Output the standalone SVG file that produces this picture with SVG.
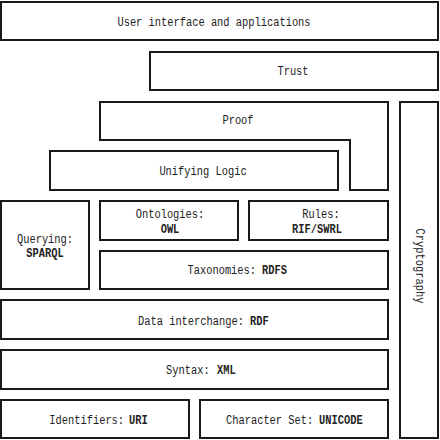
<svg xmlns="http://www.w3.org/2000/svg" width="440" height="440" viewBox="0 0 440 440">
<style>
.b{fill:#fff;stroke:#1a1a1a;stroke-width:2}
text{font-family:"Liberation Mono","DejaVu Sans Mono",monospace;font-size:10.4px;fill:#222;text-anchor:middle;dominant-baseline:central}
.s{text-anchor:start}
.k{font-weight:bold}
</style>
<rect width="440" height="440" fill="#fff"/>
<g id="ui"><rect class="b" x="1" y="2" width="437" height="38"/><text transform="translate(214 22) scale(1 1.2)">User interface and applications</text></g>
<g id="trust"><rect class="b" x="150" y="52" width="288" height="38"/><text transform="translate(293 71) scale(1 1.2)">Trust</text></g>
<g id="proof"><polygon class="b" points="100,102 388,102 388,190 350,190 350,140 100,140"/><text transform="translate(238 120) scale(1 1.2)">Proof</text></g>
<g id="crypto"><rect class="b" x="400" y="102" width="38" height="336"/><text transform="translate(420 266) rotate(90) scale(1 1.2)">Cryptography</text></g>
<g id="logic"><rect class="b" x="50" y="151" width="288" height="39"/><text transform="translate(203 171) scale(1 1.2)">Unifying Logic</text></g>
<g id="query"><rect class="b" x="1" y="201" width="88" height="88"/><text transform="translate(45 239) scale(1 1.2)">Querying:</text><text class="k" transform="translate(45 253) scale(1 1.2)">SPARQL</text></g>
<g id="owl"><rect class="b" x="100" y="201" width="138" height="39"/><text transform="translate(170 214) scale(1 1.2)">Ontologies:</text><text class="k" transform="translate(170 229) scale(1 1.2)">OWL</text></g>
<g id="rules"><rect class="b" x="249" y="201" width="139" height="39"/><text transform="translate(321 214) scale(1 1.2)">Rules:</text><text class="k" transform="translate(317 229) scale(1 1.2)">RIF/SWRL</text></g>
<g id="rdfs"><rect class="b" x="100" y="251" width="288" height="38"/><text class="s" transform="translate(187.5 270) scale(1 1.2)">Taxonomies:</text><text class="s k" transform="translate(262 270) scale(1 1.2)">RDFS</text></g>
<g id="rdf"><rect class="b" x="1" y="300" width="387" height="39"/><text class="s" transform="translate(138 321) scale(1 1.2)">Data interchange:</text><text class="s k" transform="translate(250 321) scale(1 1.2)">RDF</text></g>
<g id="xml"><rect class="b" x="1" y="350" width="387" height="39"/><text class="s" transform="translate(166 370) scale(1 1.2)">Syntax:</text><text class="s k" transform="translate(217 370) scale(1 1.2)">XML</text></g>
<g id="uri"><rect class="b" x="1" y="400" width="188" height="38"/><text class="s" transform="translate(49.3 420) scale(1 1.2)">Identifiers:</text><text class="s k" transform="translate(129 420) scale(1 1.2)">URI</text></g>
<g id="unicode"><rect class="b" x="200" y="400" width="188" height="38"/><text class="s" transform="translate(226 420) scale(1 1.2)">Character Set:</text><text class="s k" transform="translate(319 420) scale(1 1.2)">UNICODE</text></g>
<g id="connectors"/>
</svg>
